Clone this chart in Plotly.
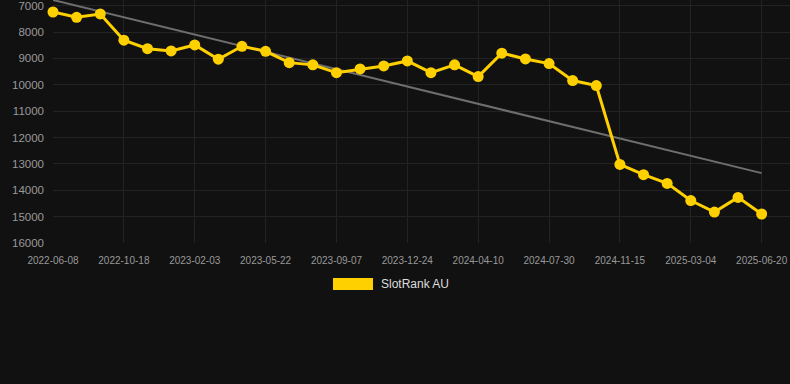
import numpy as np
import plotly.graph_objects as go

dates = [
    "2022-06-08", "2022-07-22", "2022-09-04", "2022-10-18", "2022-11-23", "2022-12-29",
    "2023-02-03", "2023-03-11", "2023-04-16", "2023-05-22", "2023-06-27", "2023-08-02",
    "2023-09-07", "2023-10-13", "2023-11-18", "2023-12-24", "2024-01-29", "2024-03-05",
    "2024-04-10", "2024-05-17", "2024-06-23", "2024-07-30", "2024-09-04", "2024-10-10",
    "2024-11-15", "2024-12-21", "2025-01-27", "2025-03-04", "2025-04-09", "2025-05-15",
    "2025-06-20",
]
rank_au = [
    7240, 7440, 7315, 8310, 8630, 8715, 8490, 9030, 8540, 8730, 9160, 9245,
    9540, 9400, 9285, 9095, 9540, 9245, 9690, 8800, 9020, 9195, 9840, 10030,
    13020, 13410, 13740, 14390, 14825, 14270, 14900,
]
tick_dates = dates[::3]
y_ticks = list(range(7000, 16001, 1000))
y_tick_text = [str(v) for v in y_ticks]
series_name = "SlotRank AU"

idx = np.arange(len(rank_au))
slope, intercept = np.polyfit(idx, rank_au, 1)
trend = [intercept, intercept + slope * (len(rank_au) - 1)]

fig = go.Figure()
fig.add_trace(go.Scatter(
    x=[dates[0], dates[-1]], y=trend, mode="lines",
    line=dict(color="#6e6e6e", width=2), showlegend=False, hoverinfo="skip",
))
fig.add_trace(go.Scatter(
    x=dates, y=rank_au, mode="lines+markers", name=series_name,
    line=dict(color="#FFD000", width=3),
    marker=dict(color="#FFD000", size=11),
    cliponaxis=False, showlegend=False,
))

W, H = 790, 384
L, R, T, B = 53, 0, 0, 141
pw, ph = W - L - R, H - T - B

def px(x):
    return (x - L) / pw

def py(y):
    return (H - B - y) / ph

fig.add_shape(type="rect", xref="paper", yref="paper",
              x0=px(333), x1=px(373), y0=py(290), y1=py(278),
              fillcolor="#FFD000", line=dict(width=0))
fig.add_annotation(xref="paper", yref="paper", x=px(379), y=py(284),
                   text=series_name, showarrow=False, xanchor="left", yanchor="middle",
                   font=dict(color="#dddddd", size=12, family="Liberation Sans, Arial"))

fig.update_layout(
    width=W, height=H,
    margin=dict(l=L, r=R, t=T, b=B, autoexpand=False),
    paper_bgcolor="#111111", plot_bgcolor="#111111",
    font=dict(family="Liberation Sans, Arial", color="#999999"),
    showlegend=False,
    xaxis=dict(
        type="category", categoryarray=dates, range=[0, 31.2],
        tickmode="array", tickvals=tick_dates, ticktext=tick_dates,
        showgrid=True, gridcolor="#232323", gridwidth=1,
        zeroline=False, showline=False, ticks="", automargin=False,
        ticklabelstandoff=10, ticklabeloverflow="allow",
        tickfont=dict(size=10, color="#999999"), tickangle=0,
    ),
    yaxis=dict(
        range=[16000, 6785], tickmode="array", tickvals=y_ticks, ticktext=y_tick_text,
        showgrid=True, gridcolor="#232323", gridwidth=1,
        zeroline=False, showline=False, ticks="", automargin=False,
        ticklabelstandoff=8, ticklabeloverflow="allow",
        tickfont=dict(size=11.5, color="#999999"),
    ),
)

fig.write_html(
    "out.html",
    config={"displayModeBar": False},
    post_script="document.body.style.margin='0';document.body.style.background='#111111';",
)
